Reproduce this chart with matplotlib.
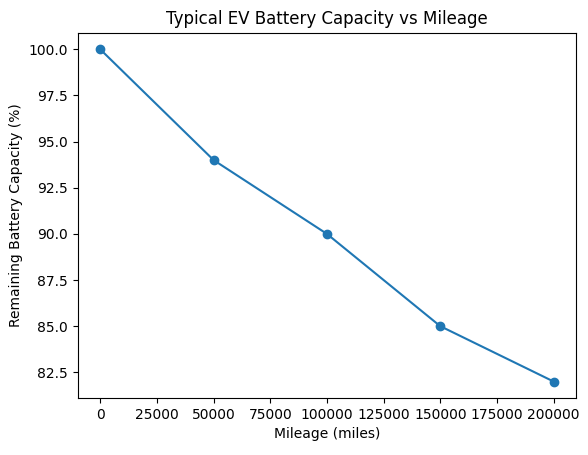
import matplotlib
matplotlib.use('Agg')
import matplotlib.pyplot as plt

# data
mileage = [0, 50000, 100000, 150000, 200000]
capacity = [100, 94, 90, 85, 82]

fig, ax = plt.subplots(figsize=(5.88, 4.55), dpi=100)
fig.subplots_adjust(left=0.132, right=0.98, top=0.928, bottom=0.125)

ax.plot(mileage, capacity, marker='o')
ax.set_title('Typical EV Battery Capacity vs Mileage')
ax.set_xlabel('Mileage (miles)')
ax.set_ylabel('Remaining Battery Capacity (%)')

fig.savefig('out.png', dpi=100)
